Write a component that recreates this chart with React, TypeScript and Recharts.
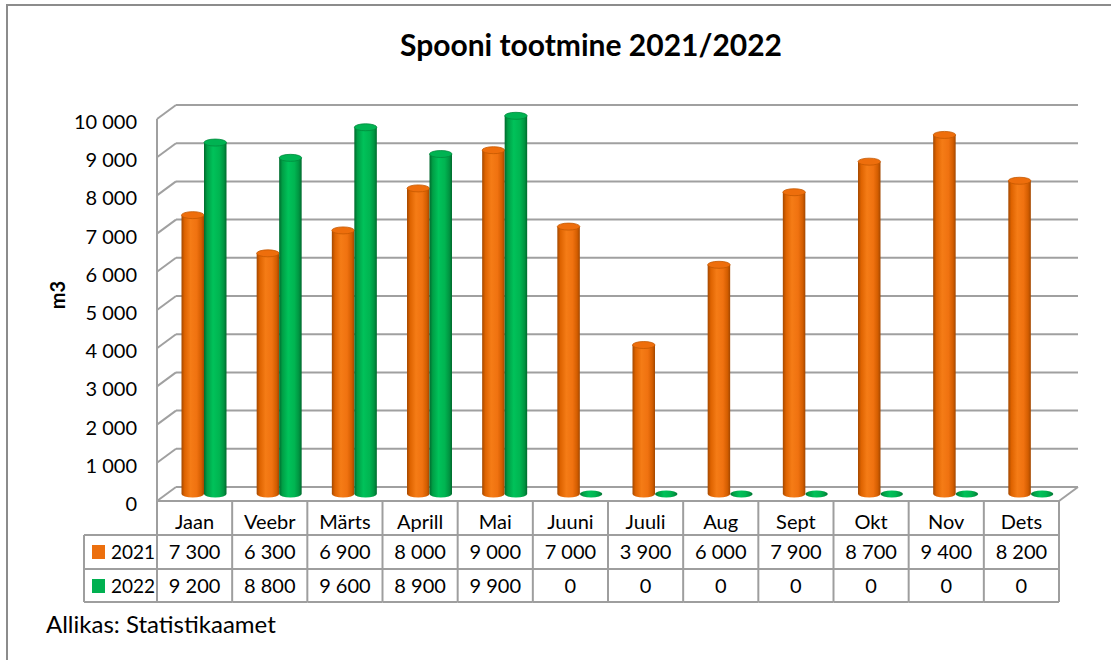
import React from 'react';
import { BarChart, Bar, XAxis, YAxis, CartesianGrid, Customized } from 'recharts';

// ---- data ----
const months = ['Jaan', 'Veebr', 'Märts', 'Aprill', 'Mai', 'Juuni', 'Juuli', 'Aug', 'Sept', 'Okt', 'Nov', 'Dets'];
const values2021 = [7300, 6300, 6900, 8000, 9000, 7000, 3900, 6000, 7900, 8700, 9400, 8200];
const values2022 = [9200, 8800, 9600, 8900, 9900, 0, 0, 0, 0, 0, 0, 0];
const seriesNames = ['2021', '2022'];
const yTicks = [0, 1000, 2000, 3000, 4000, 5000, 6000, 7000, 8000, 9000, 10000];
const chartTitle = 'Spooni tootmine 2021/2022';
const yAxisTitle = 'm3';
const sourceNote = 'Allikas: Statistikaamet';

const data = months.map((m, i) => ({ month: m, y2021: values2021[i], y2022: values2022[i] }));

// ---- layout ----
const W = 1111;
const H = 660;
const PL = 157;
const PR = 1059;
const PT = 119;
const PB = 501;
const DX = 19;
const DY = -14;
const YAXIS_W = 60;
const XAXIS_H = 101;
const ROW1_TOP = 535;
const ROW2_TOP = 569;
const TABLE_BOTTOM = 602;
const LEGEND_LEFT = 84;
const BW = (PR - PL) / months.length;
const FONT = 'Lato, "Open Sans", sans-serif';
const GRID = '#a0a0a0';
const TABLE_LINE = '#9e9e9e';

const COLORS = [
  { id: 'org', legend: '#ec6f0e', cap: '#ee6e0c', capStroke: '#c45800', stops: ['#a34800', '#de6300', '#f57c16', '#f07210', '#d35d00', '#a24700'] },
  { id: 'grn', legend: '#00b050', cap: '#00b352', capStroke: '#008a3c', stops: ['#006a2d', '#009e45', '#00c25a', '#00b551', '#009441', '#006a2d'] },
];
const STOP_POS = ['0%', '14%', '40%', '68%', '88%', '100%'];

const fmt = (n: number) => String(n).replace(/\B(?=(\d{3})+(?!\d))/g, ' ');

const makeCylinder = (c: typeof COLORS[number]) => (props: any) => {
  const { x, y, width, height } = props;
  const left = x + DX / 2;
  const w = width;
  const cx = left + w / 2;
  const rx = w / 2;
  const ry = 3.5;
  const bottom = y + height + DY / 2;
  if (height < 2) {
    return <ellipse cx={cx} cy={bottom} rx={rx} ry={ry} fill={`url(#${c.id}-side)`} />;
  }
  const top = y + DY / 2;
  return (
    <g>
      <path
        d={`M${left},${top} L${left},${bottom} A${rx},${ry} 0 0 0 ${left + w},${bottom} L${left + w},${top} Z`}
        fill={`url(#${c.id}-side)`}
      />
      <ellipse cx={cx} cy={top} rx={rx} ry={ry} fill={c.cap} stroke={c.capStroke} strokeWidth={0.8} />
    </g>
  );
};

const GridLine = (props: any) => {
  const { x1, y1, x2, y2 } = props;
  return (
    <g>
      <line x1={x1 + DX} y1={y1 + DY} x2={x2 + DX} y2={y2 + DY} stroke={GRID} strokeWidth={2} />
      <line x1={x1} y1={y1} x2={x1 + DX} y2={y1 + DY} stroke={GRID} strokeWidth={2} />
    </g>
  );
};

const YTick = (props: any) => {
  const { y, payload } = props;
  return (
    <text x={PL - 20} y={y + 10} textAnchor="end" fontFamily={FONT} fontSize={20} fill="#000">
      {fmt(payload.value)}
    </text>
  );
};

const TableTick = (props: any) => {
  const { x, payload } = props;
  const i = payload.index ?? props.index ?? 0;
  const l = x - BW / 2;
  const r = x + BW / 2;
  return (
    <g>
      {i === 0 && <line x1={l} y1={PB} x2={l} y2={TABLE_BOTTOM} stroke={TABLE_LINE} strokeWidth={2} />}
      <line x1={r} y1={PB} x2={r} y2={TABLE_BOTTOM} stroke={TABLE_LINE} strokeWidth={2} />
      <line x1={l} y1={ROW1_TOP} x2={r} y2={ROW1_TOP} stroke={TABLE_LINE} strokeWidth={2} />
      <line x1={l} y1={ROW2_TOP} x2={r} y2={ROW2_TOP} stroke={TABLE_LINE} strokeWidth={2} />
      <line x1={l} y1={TABLE_BOTTOM} x2={r} y2={TABLE_BOTTOM} stroke={TABLE_LINE} strokeWidth={2} />
      <text x={x} y={529} textAnchor="middle" fontFamily={FONT} fontSize={20} fill="#000">
        {months[i]}
      </text>
      <text x={x} y={559} textAnchor="middle" fontFamily={FONT} fontSize={20} fill="#000">
        {fmt(values2021[i])}
      </text>
      <text x={x} y={593} textAnchor="middle" fontFamily={FONT} fontSize={20} fill="#000">
        {fmt(values2022[i])}
      </text>
    </g>
  );
};

const Decor = () => (
  <g>
    <defs>
      {COLORS.map((c) => (
        <linearGradient key={c.id} id={`${c.id}-side`} x1="0" y1="0" x2="1" y2="0">
          {c.stops.map((s, k) => (
            <stop key={k} offset={STOP_POS[k]} stopColor={s} />
          ))}
        </linearGradient>
      ))}
    </defs>
    <rect x={7} y={5} width={W + 20} height={H + 20} fill="none" stroke="#8c8c8c" strokeWidth={2} />
    <text x={591} y={56} textAnchor="middle" fontFamily={FONT} fontWeight={700} fontSize={30} fill="#000">
      {chartTitle}
    </text>
    <text
      transform={`translate(65, ${(PT + PB) / 2 - 15}) rotate(-90)`}
      textAnchor="middle"
      fontFamily={FONT}
      fontWeight={700}
      fontSize={20}
      fill="#000"
    >
      {yAxisTitle}
    </text>
    <line x1={PR} y1={PB} x2={PR + DX} y2={PB + DY} stroke={GRID} strokeWidth={2} />
    {/* legend column of data table */}
    <line x1={LEGEND_LEFT} y1={ROW1_TOP} x2={PL} y2={ROW1_TOP} stroke={TABLE_LINE} strokeWidth={2} />
    <line x1={LEGEND_LEFT} y1={ROW2_TOP} x2={PL} y2={ROW2_TOP} stroke={TABLE_LINE} strokeWidth={2} />
    <line x1={LEGEND_LEFT} y1={TABLE_BOTTOM} x2={PL} y2={TABLE_BOTTOM} stroke={TABLE_LINE} strokeWidth={2} />
    <line x1={LEGEND_LEFT} y1={ROW1_TOP} x2={LEGEND_LEFT} y2={TABLE_BOTTOM} stroke={TABLE_LINE} strokeWidth={2} />
    {seriesNames.map((name, k) => {
      const top = k === 0 ? ROW1_TOP : ROW2_TOP;
      return (
        <g key={name}>
          <rect x={92} y={top + 10} width={13} height={14} fill={COLORS[k].legend} />
          <text x={111} y={top + 24} fontFamily={FONT} fontSize={19} fill="#000">
            {name}
          </text>
        </g>
      );
    })}
    <text x={46} y={633} fontFamily={FONT} fontSize={24} fill="#000">
      {sourceNote}
    </text>
  </g>
);

export default function App() {
  return (
    <div style={{ position: 'absolute', left: 0, top: 0, width: W, height: H, background: '#fff' }}>
      <BarChart
        width={W}
        height={H}
        data={data}
        margin={{ top: PT, right: W - PR, bottom: H - PB - XAXIS_H, left: PL - YAXIS_W }}
        barGap={0}
        barSize={22.5}
      >
        <Customized component={<Decor />} />
        <CartesianGrid vertical={false} horizontal={GridLine as any} />
        <XAxis
          dataKey="month"
          interval={0}
          height={XAXIS_H}
          tickLine={false}
          axisLine={{ stroke: TABLE_LINE, strokeWidth: 2 }}
          tick={TableTick as any}
        />
        <YAxis
          width={YAXIS_W}
          domain={[0, 10000]}
          ticks={yTicks}
          interval={0}
          tickLine={false}
          axisLine={{ stroke: GRID, strokeWidth: 2 }}
          tick={YTick as any}
        />
        <Bar dataKey="y2021" name={seriesNames[0]} shape={makeCylinder(COLORS[0])} minPointSize={1} isAnimationActive={false} />
        <Bar dataKey="y2022" name={seriesNames[1]} shape={makeCylinder(COLORS[1])} minPointSize={1} isAnimationActive={false} />
      </BarChart>
    </div>
  );
}
